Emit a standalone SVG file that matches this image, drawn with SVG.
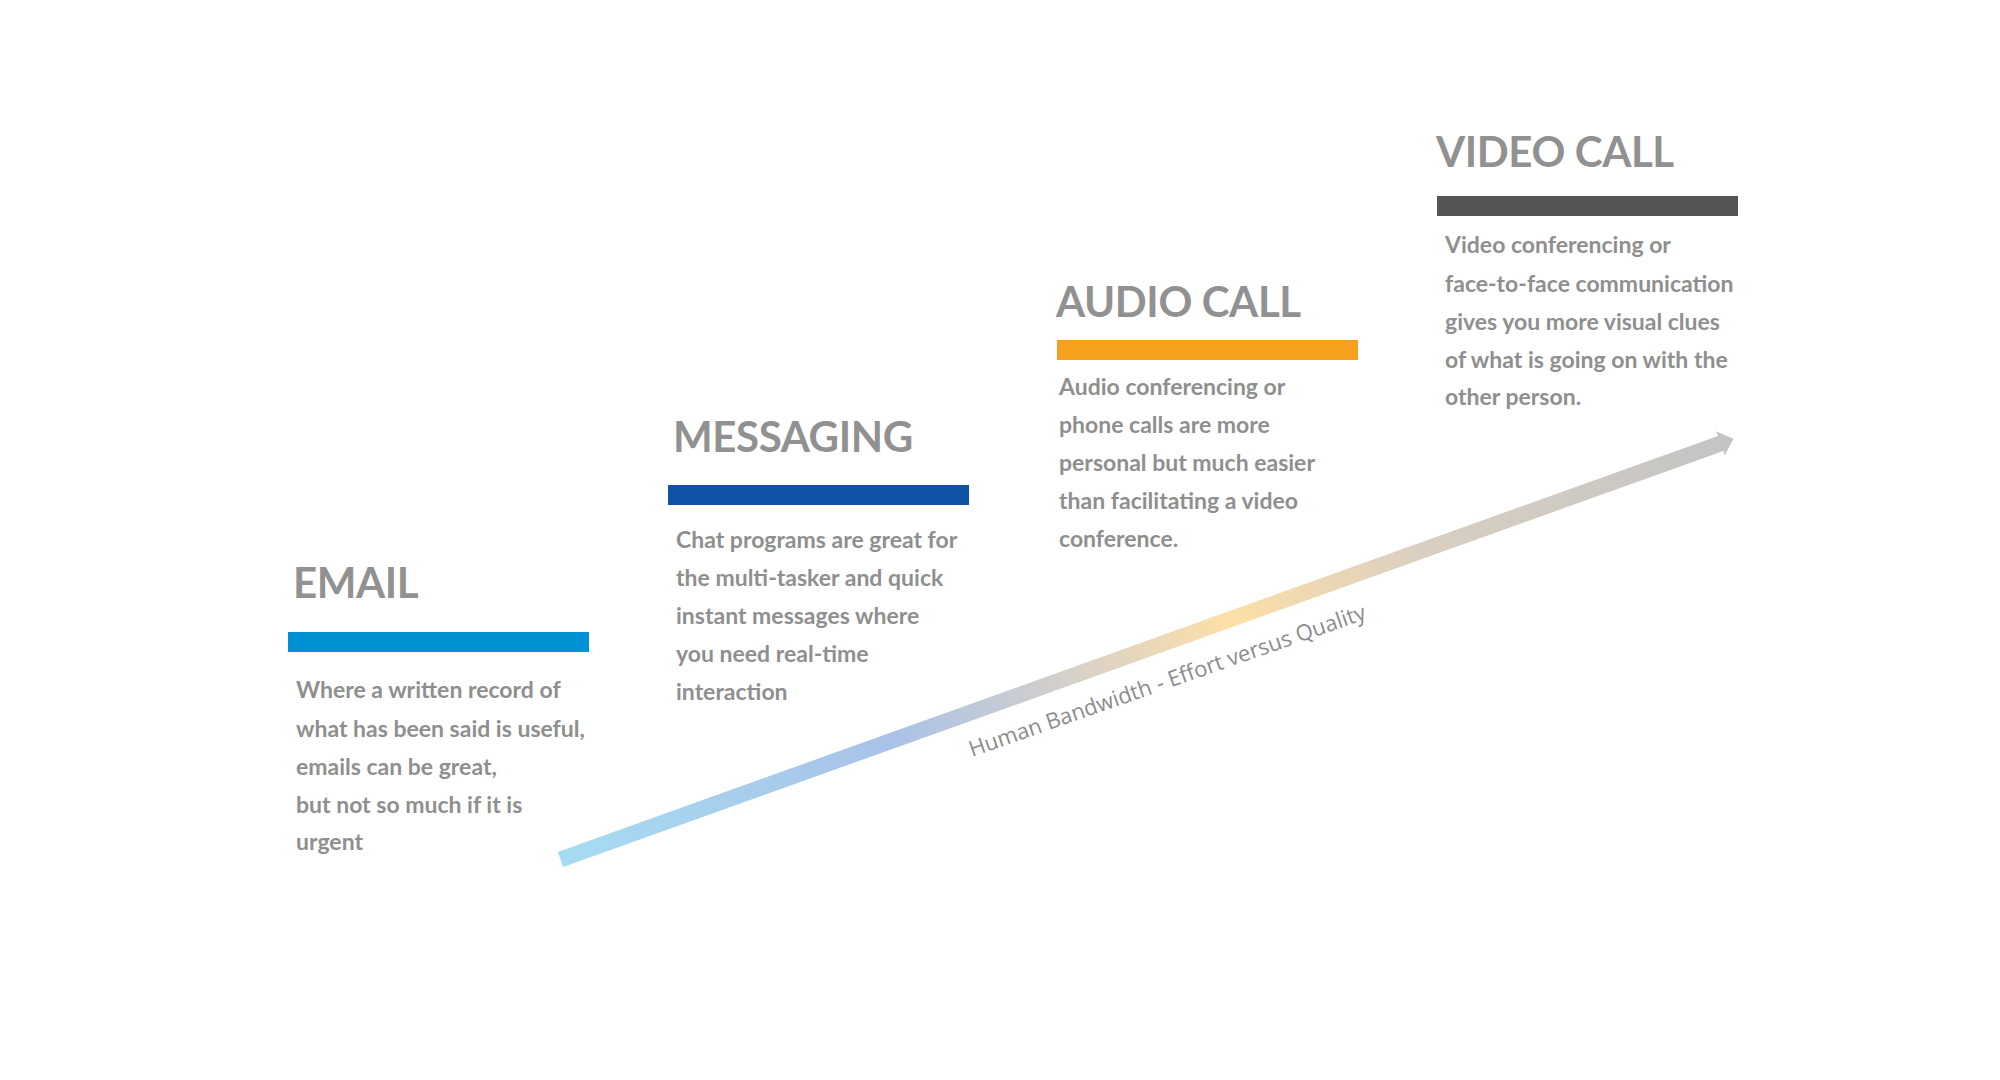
<svg xmlns="http://www.w3.org/2000/svg" width="2000" height="1080" viewBox="0 0 2000 1080">
<style>
.head{font-family:"Lato","Noto Sans",sans-serif;font-weight:700;font-size:42px;letter-spacing:-0.4px;fill:#919191}
.body{font-family:"Lato","Noto Sans",sans-serif;font-weight:700;font-size:23px;fill:#8f8f8f}
.lbl{font-family:"Open Sans","Noto Sans",sans-serif;font-size:22px;fill:#8c8c8c}
</style>
<defs>
<linearGradient id="g" gradientUnits="userSpaceOnUse" x1="0" y1="0" x2="1246" y2="0">
<stop offset="0" stop-color="#A6DCF2"/>
<stop offset="0.28" stop-color="#A9C2E8"/>
<stop offset="0.40" stop-color="#CCCDD1"/>
<stop offset="0.57" stop-color="#FDDFA8"/>
<stop offset="0.74" stop-color="#D8CFC2"/>
<stop offset="1" stop-color="#C4C4C4"/>
</linearGradient>
</defs>
<rect width="2000" height="1080" fill="#ffffff"/>
<g id="connectors">
<g transform="translate(560.5,859.5) rotate(-19.73)">
<rect x="0" y="-8" width="1234" height="16" fill="url(#g)"/>
<polygon points="1232,-13 1246,0 1232,13 1234,0" fill="#C4C4C4"/>
</g>
<text class="lbl" transform="translate(972,757) rotate(-19.3)">Human Bandwidth - Effort versus Quality</text>
</g>
<g id="email">
<text class="head" x="293" y="598">EMAIL</text>
<rect x="288" y="632" width="301" height="20" fill="#0091D5"/>
<text class="body" x="296" y="698">Where a written record of</text>
<text class="body" x="296" y="737">what has been said is useful,</text>
<text class="body" x="296" y="775">emails can be great,</text>
<text class="body" x="296" y="813">but not so much if it is</text>
<text class="body" x="296" y="850">urgent</text>
</g>
<g id="messaging">
<text class="head" x="673" y="452">MESSAGING</text>
<rect x="668" y="485" width="301" height="20" fill="#0F52A6"/>
<text class="body" x="676" y="548">Chat programs are great for</text>
<text class="body" x="676" y="586">the multi-tasker and quick</text>
<text class="body" x="676" y="624">instant messages where</text>
<text class="body" x="676" y="662">you need real-time</text>
<text class="body" x="676" y="700">interaction</text>
</g>
<g id="audio-call">
<text class="head" x="1056" y="317">AUDIO CALL</text>
<rect x="1057" y="340" width="301" height="20" fill="#F7A01C"/>
<text class="body" x="1059" y="395">Audio conferencing or</text>
<text class="body" x="1059" y="433">phone calls are more</text>
<text class="body" x="1059" y="471">personal but much easier</text>
<text class="body" x="1059" y="509">than facilitating a video</text>
<text class="body" x="1059" y="547">conference.</text>
</g>
<g id="video-call">
<text class="head" x="1436" y="167">VIDEO CALL</text>
<rect x="1437" y="196" width="301" height="20" fill="#555555"/>
<text class="body" x="1445" y="253">Video conferencing or</text>
<text class="body" x="1445" y="292">face-to-face communication</text>
<text class="body" x="1445" y="330">gives you more visual clues</text>
<text class="body" x="1445" y="368">of what is going on with the</text>
<text class="body" x="1445" y="405">other person.</text>
</g>
</svg>
